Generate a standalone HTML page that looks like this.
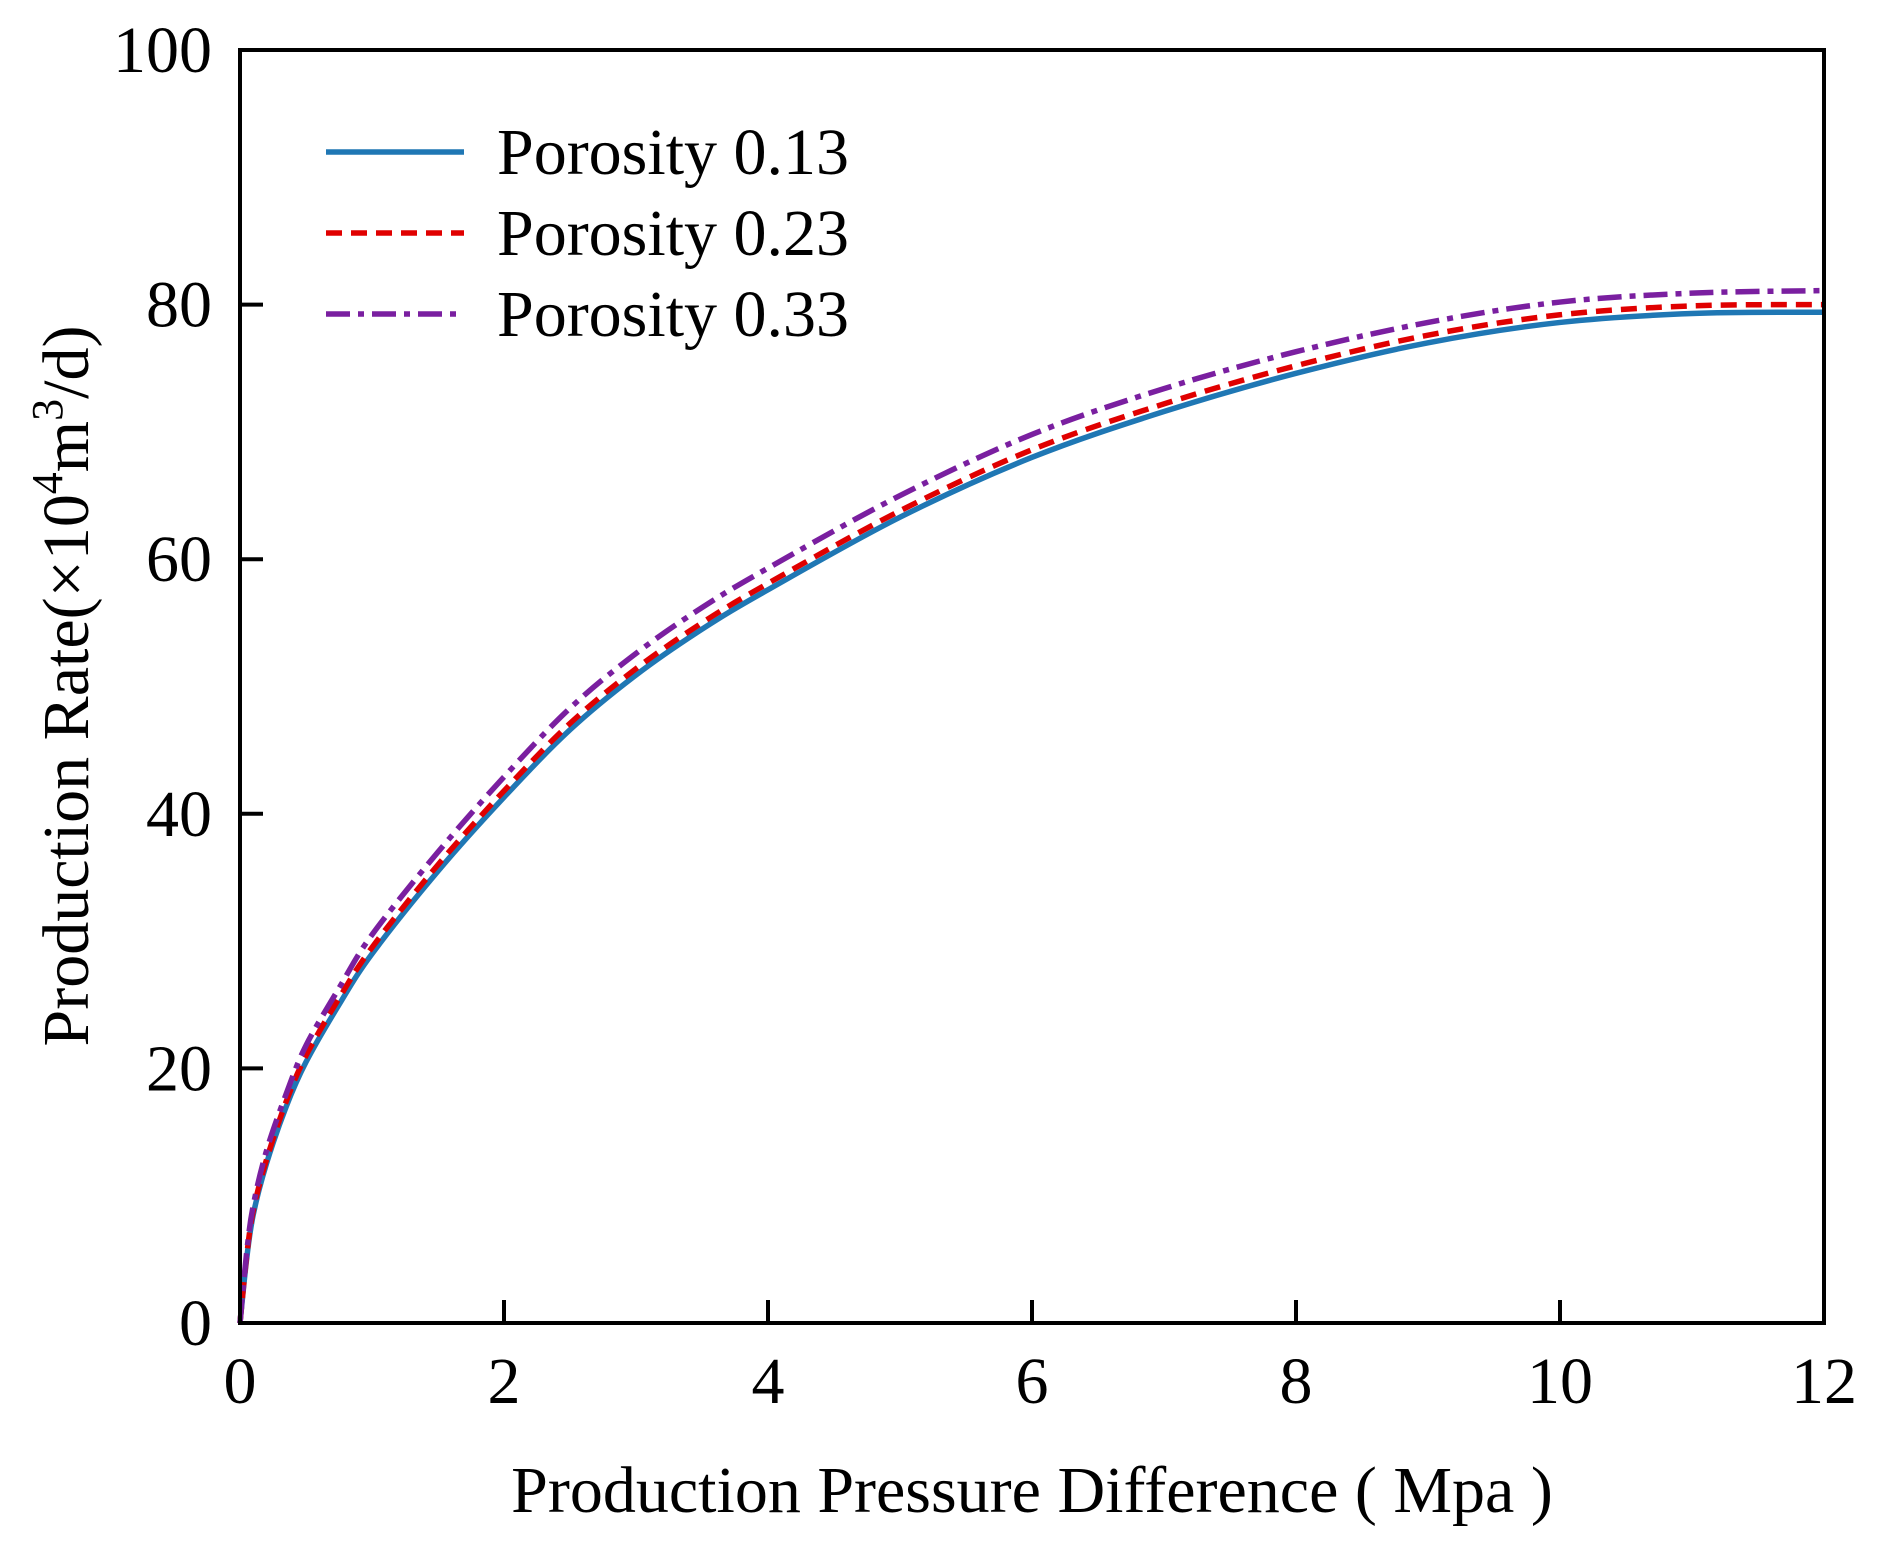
<!DOCTYPE html>
<html><head><meta charset="utf-8"><style>
html,body{margin:0;padding:0;background:#fff;}
svg{display:block;font-family:"Liberation Serif",serif;}
</style></head><body>
<svg id="chart" width="1877" height="1553" viewBox="0 0 1877 1553" xmlns="http://www.w3.org/2000/svg">
<rect width="1877" height="1553" fill="#fff"/>
<g id="plot"></g>
<g id="axes"></g>
<text x="1032" y="1512" font-size="66" text-anchor="middle" fill="#000">Production Pressure Difference ( Mpa )</text>
<text transform="translate(88,686) rotate(-90)" font-size="66" text-anchor="middle" fill="#000">Production Rate(×10<tspan font-size="44" dy="-26">4</tspan><tspan dy="26">m</tspan><tspan font-size="44" dy="-26">3</tspan><tspan dy="26">/d)</tspan></text>
<g id="legend"></g>
</svg>
<script>
const xTicks=[0,2,4,6,8,10,12];
const yTicks=[0,20,40,60,80,100];
const xVals=[0,0.05,0.1,0.2,0.35,0.5,0.75,1,1.5,2,2.5,3,3.5,4,5,6,7,8,9,10,11,12];
const blue=[0,5,8.5,12.5,17,20.5,25,29,35.5,41.3,46.6,50.9,54.5,57.6,63.3,68,71.6,74.6,77,78.6,79.3,79.4];
const red=[0,5.2,8.8,12.8,17.4,21,25.5,29.5,36,41.8,47.1,51.4,55,58.1,63.8,68.6,72.2,75.2,77.6,79.2,79.9,80.0];
const purple=[0,5.5,9.2,13.5,18,21.8,26.3,30.5,37,42.9,48.3,52.6,56.2,59.3,65,69.8,73.4,76.3,78.6,80.2,80.9,81.1];
const seriesNames=["Porosity 0.13","Porosity 0.23","Porosity 0.33"];
const NS="http://www.w3.org/2000/svg";
const L=240,R=1824,T=50,B=1323;
const xs=v=>L+(v-0)/12*(R-L);
const ys=v=>B-(v-0)/100*(B-T);
function mk(tag,attrs,parent){const e=document.createElementNS(NS,tag);for(const k in attrs)e.setAttribute(k,attrs[k]);parent.appendChild(e);return e;}
const plot=document.getElementById('plot'),axes=document.getElementById('axes'),legend=document.getElementById('legend');
const styles=[{c:"#1f77b4",d:""},{c:"#e00000",d:"16 9"},{c:"#7a1fa0",d:"24 8 6 8"}];
const data=[blue,red,purple];
function pathFor(arr){
  const p=xVals.map((x,i)=>[xs(x),ys(arr[i])]);
  let d="M"+p[0][0]+","+p[0][1];
  for(let i=0;i<p.length-1;i++){
    const p0=p[i-1]||p[i],p1=p[i],p2=p[i+1],p3=p[i+2]||p2;
    const c1=[p1[0]+(p2[0]-p0[0])/6,p1[1]+(p2[1]-p0[1])/6];
    const c2=[p2[0]-(p3[0]-p1[0])/6,p2[1]-(p3[1]-p1[1])/6];
    d+=" C"+c1+" "+c2+" "+p2;
  }
  return d;
}
data.forEach((arr,i)=>{
  const e=mk('path',{d:pathFor(arr),fill:"none",stroke:styles[i].c,"stroke-width":5.5,"stroke-dasharray":styles[i].d},plot);
  
  
});
const frame=mk('rect',{x:L,y:T,width:R-L,height:B-T,fill:"none",stroke:"#000","stroke-width":4},axes);


xTicks.forEach(v=>{
  const t=mk('line',{x1:xs(v),x2:xs(v),y1:B,y2:B-23,stroke:"#000","stroke-width":4},axes);
  
  
  const lb=mk('text',{x:xs(v),y:1403,"font-size":66,"text-anchor":"middle",fill:"#000"},axes);
  lb.textContent=v;
  
  
});
yTicks.forEach(v=>{
  const t=mk('line',{x1:L,x2:L+23,y1:ys(v),y2:ys(v),stroke:"#000","stroke-width":4},axes);
  
  
  const lb=mk('text',{x:212,y:ys(v)+22,"font-size":66,"text-anchor":"end",fill:"#000"},axes);
  lb.textContent=v;
  
  
});
const legY=[152,233,314];
seriesNames.forEach((n,i)=>{
  const g=mk('g',{},legend);
  
  
  mk('line',{x1:326,x2:464,y1:legY[i],y2:legY[i],stroke:styles[i].c,"stroke-width":5.5,"stroke-dasharray":styles[i].d},g);
  const t=mk('text',{x:497,y:legY[i]+22,"font-size":66,fill:"#000"},g);
  t.textContent=n;
});
</script>
</body></html>
